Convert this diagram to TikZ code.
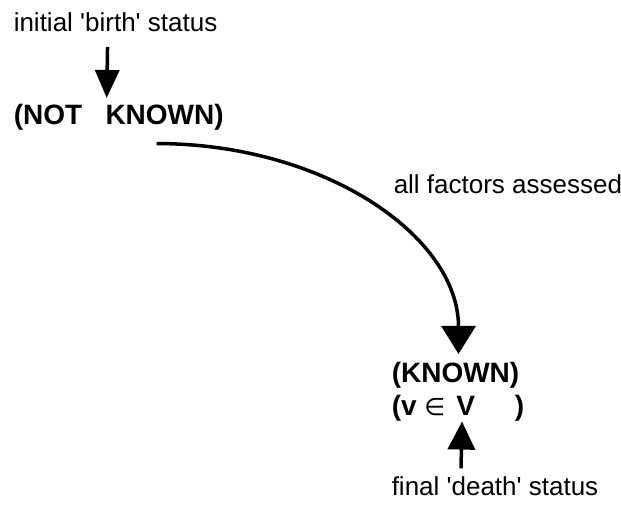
\documentclass[tikz,border=0pt]{standalone}
\usepackage{fontspec}
\setmainfont{Liberation Sans}
\newfontfamily\symfont{DejaVu Sans}
\usepackage{tikz}
\usetikzlibrary{arrows.meta,positioning,calc}
\newcommand{\lblfont}{\fontsize{26}{30}\selectfont}
\newcommand{\statfont}{\fontsize{28}{33}\selectfont\bfseries}
\newcommand{\q}{\textquotesingle}

\begin{document}
\begin{tikzpicture}[x=1pt,y=-1pt,line width=3.5pt,
    every node/.style={inner sep=0pt,anchor=base west},
    lbl/.style={font=\lblfont}, stat/.style={font=\statfont},
    heavy/.style={-{Triangle[width=#1,length=28pt]}}]
  \useasboundingbox (0,0) rectangle (621,506);
  \node[lbl] (birth) at (12,31) {initial \q birth\q{} status};
  \node[stat] (notknown) at (12,124) {(NOT\ \ \ KNOWN)};
  \node[lbl] (factors) at (392,193) {all factors assessed};
  \node[stat] (known) at (390,382) {(KNOWN)};
  \node[stat] (member) at (390,415) {(v {\symfont\mdseries\fontsize{24}{28}\selectfont ∈}\hspace{11pt}V\hspace{40pt})};
  \node[lbl] (death) at (390,495) {final \q death\q{} status};
  % birth -> not known
  \draw[heavy=24pt] ([shift={(-8pt,-14pt)}]birth.south) -- ([shift={(-12pt,4pt)}]notknown.north);
  % not known -> known, once every factor is in
  \draw[heavy=34pt] ([shift={(38pt,-12pt)}]notknown.south) .. controls +(167,0) and +(0,-118) .. ([shift={(3pt,6pt)}]known.north);
  % death status points back up at the value
  \draw[heavy=27pt] ([shift={(-34pt,6pt)}]death.north) -- ([shift={(4pt,1pt)}]member.south);
\end{tikzpicture}
\end{document}
